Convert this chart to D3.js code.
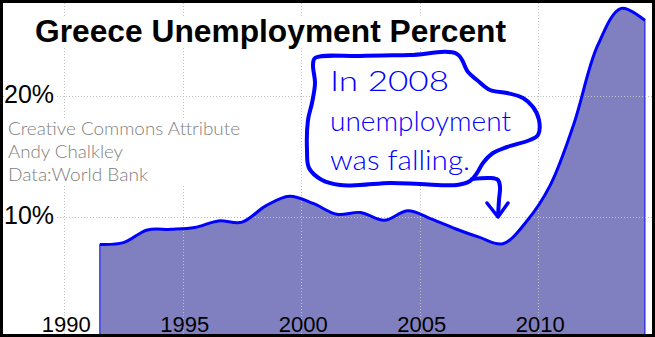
<!DOCTYPE html>
<html>
<head>
<meta charset="utf-8">
<script src="https://cdn.jsdelivr.net/npm/d3@7"></script>
<style>
  body { margin: 0; background: #fff; }
  svg { display: block; }
</style>
</head>
<body>
<div id="chart"></div>
<script>
// Greece unemployment, % of labour force
var years = [1991, 1992, 1993, 1994, 1995, 1996, 1997, 1998, 1999, 2000, 2001, 2002,
             2003, 2004, 2005, 2006, 2007, 2008, 2009, 2010, 2011, 2012, 2013, 2014];
var unemployment = [7.7, 7.85, 8.9, 8.95, 9.1, 9.65, 9.55, 10.9, 11.7, 11.1, 10.2, 10.35,
                    9.7, 10.5, 9.8, 9.0, 8.3, 7.75, 9.6, 12.6, 17.7, 24.2, 27.3, 26.3];
var xTicks = [1990, 1995, 2000, 2005, 2010];
var yTicks = [10, 20];
var title = "Greece Unemployment Percent";
var credits = ["Creative Commons Attribute", "Andy Chalkley", "Data:World Bank"];
var note = ["In 2008", "unemployment", "was falling."];

var W = 655, H = 337;
var blue = "#0000ff";
var handFont = "Lato, 'DejaVu Sans', sans-serif";

var data = years.map(function(yr, i) { return {year: yr, value: unemployment[i]}; });

var x = d3.scaleLinear().domain([1990, 2010]).range([64.3, 538.3]);
var y = d3.scaleLinear().domain([0, 20]).range([337.1, 96.3]);

var svg = d3.select("#chart").append("svg")
  .attr("width", W)
  .attr("height", H);

svg.append("rect").attr("width", W).attr("height", H).attr("fill", "#fff");

// area + outline (yearly averages sit in the middle of each year)
var area = d3.area()
  .x(function(d) { return x(d.year + 0.5); })
  .y0(y(0))
  .y1(function(d) { return y(d.value); })
  .curve(d3.curveCatmullRom);

var line = d3.line()
  .x(function(d) { return x(d.year + 0.5); })
  .y(function(d) { return y(d.value); })
  .curve(d3.curveCatmullRom);

svg.append("path")
  .datum(data)
  .attr("d", area)
  .attr("fill", "#8080c0")
  .attr("stroke", blue)
  .attr("stroke-width", 1);

// grid
var grid = svg.append("g").attr("class", "grid")
  .attr("stroke", "#c0c0c0")
  .attr("stroke-width", 1)
  .attr("stroke-dasharray", "1,2");

grid.selectAll(".v").data(xTicks).enter().append("line")
  .attr("x1", function(d) { return Math.round(x(d)) + 0.5; })
  .attr("x2", function(d) { return Math.round(x(d)) + 0.5; })
  .attr("y1", 3).attr("y2", H - 3);

grid.selectAll(".h").data(yTicks).enter().append("line")
  .attr("x1", 3).attr("x2", W - 3)
  .attr("y1", function(d) { return Math.round(y(d)) + 0.5; })
  .attr("y2", function(d) { return Math.round(y(d)) + 0.5; });

svg.append("path")
  .datum(data)
  .attr("d", line)
  .attr("fill", "none")
  .attr("stroke", blue)
  .attr("stroke-width", 3)
  .attr("stroke-linejoin", "round");

// title on a white box
svg.append("rect").attr("x", 30).attr("y", 18).attr("width", 486).attr("height", 30).attr("fill", "#fff");
svg.append("text")
  .attr("x", 35).attr("y", 42)
  .attr("font-family", "'Liberation Sans', Arial, sans-serif")
  .attr("font-weight", "bold")
  .attr("font-size", 31)
  .attr("textLength", 471)
  .attr("lengthAdjust", "spacingAndGlyphs")
  .attr("fill", "#000")
  .text(title);

// y labels
yTicks.forEach(function(t) {
  var ty = y(t);
  svg.append("rect").attr("x", 4).attr("y", ty - 12).attr("width", 53).attr("height", 24).attr("fill", "#fff");
  svg.append("text")
    .attr("x", 4).attr("y", ty + 7)
    .attr("font-family", "'Liberation Sans', Arial, sans-serif")
    .attr("font-size", 25)
    .attr("fill", "#000")
    .text(t + "%");
});

// x labels
svg.append("g").selectAll("text").data(xTicks).enter().append("text")
  .attr("x", function(d) { return x(d) + 2; })
  .attr("y", 331.5)
  .attr("text-anchor", "middle")
  .attr("font-family", "'Liberation Sans', Arial, sans-serif")
  .attr("font-size", 22)
  .attr("fill", "#000")
  .text(function(d) { return d; });

// credits
svg.append("rect").attr("x", 5).attr("y", 118).attr("width", 240).attr("height", 68).attr("fill", "#fff");
var creditW = [232, 115, 140];
svg.append("g").selectAll("text").data(credits).enter().append("text")
  .attr("x", 8)
  .attr("y", function(d, i) { return 135 + i * 23; })
  .attr("font-family", handFont)
  .attr("font-weight", 300)
  .attr("font-size", 17)
  .attr("fill", "#808080")
  .attr("textLength", function(d, i) { return creditW[i]; })
  .attr("lengthAdjust", "spacingAndGlyphs")
  .text(function(d) { return d; });

// hand drawn speech bubble pointing at 2008
var bubble = [[315,58],[360,56],[410,55],[457,54],[468,72],[477,80],[490,90],[507,93],
              [523,98],[533,107],[539,120],[538,135],[530,140],[507,147],[493,153],[483,163],
              [477,173],[470,181],[457,185],[420,184],[390,183],[360,185],[340,185],[322,180],
              [309,168],[307,150],[308,120],[312,103],[315,83],[313,65]];
svg.append("path")
  .attr("d", d3.line().curve(d3.curveCatmullRomClosed)(bubble))
  .attr("fill", "#fff")
  .attr("stroke", blue)
  .attr("stroke-width", 4)
  .attr("stroke-linejoin", "round");

var tail = [[472,179],[490,178],[498,180],[500,187],[499,200],[498,216]];
svg.append("path")
  .attr("d", d3.line().curve(d3.curveCatmullRom)(tail))
  .attr("fill", "none")
  .attr("stroke", blue)
  .attr("stroke-width", 4)
  .attr("stroke-linecap", "round");
svg.append("path")
  .attr("d", d3.line()([[487,203],[498,217],[508,203]]))
  .attr("fill", "none")
  .attr("stroke", blue)
  .attr("stroke-width", 3.5)
  .attr("stroke-linecap", "round")
  .attr("stroke-linejoin", "round");

var noteW = [119, 181, 140];
svg.append("g").selectAll("text").data(note).enter().append("text")
  .attr("x", 330)
  .attr("y", function(d, i) { return 91 + i * 39.5; })
  .attr("font-family", handFont)
  .attr("font-weight", 300)
  .attr("font-size", 28)
  .attr("fill", blue)
  .attr("textLength", function(d, i) { return noteW[i]; })
  .attr("lengthAdjust", "spacingAndGlyphs")
  .text(function(d) { return d; });

// black frame
svg.append("rect")
  .attr("x", 0).attr("y", 0).attr("width", W).attr("height", H)
  .attr("fill", "none")
  .attr("stroke", "#000")
  .attr("stroke-width", 6);
</script>
</body>
</html>
